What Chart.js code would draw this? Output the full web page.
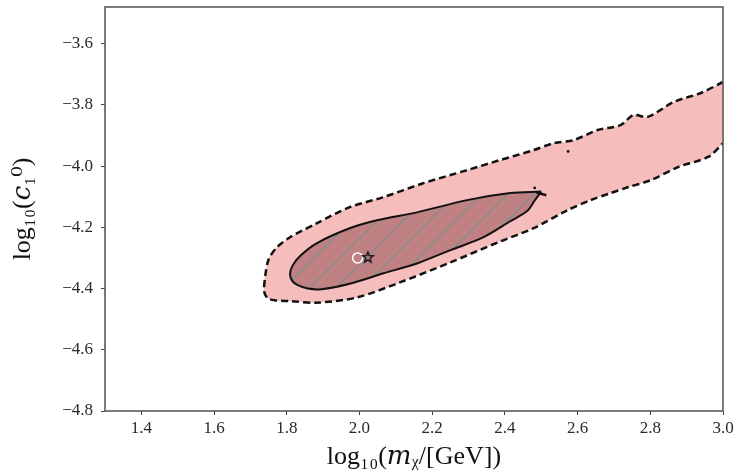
<!DOCTYPE html>
<html>
<head>
<meta charset="utf-8">
<script src="https://cdn.jsdelivr.net/npm/chart.js@4/dist/chart.umd.min.js"></script>
<style>
  html, body { margin: 0; padding: 0; background: #ffffff; }
  #wrap { width: 739px; height: 476px; }
</style>
</head>
<body>
<div id="wrap"><canvas id="c" width="739" height="476"></canvas></div>
<script>
// ---- data ----
const xTicks = [1.4, 1.6, 1.8, 2.0, 2.2, 2.4, 2.6, 2.8, 3.0];
const yTicks = [-4.8, -4.6, -4.4, -4.2, -4.0, -3.8, -3.6];
const xRange = [1.3, 3.0];
const yRange = [-4.8, -3.48];
const xTitle = 'log₁₀(𝑚ᵪ/[GeV])';
const yTitle = 'log₁₀(𝑐₁⁰)';

// outer (dashed) credible region, [log10 m, log10 c]
const outerContour = [
  [3.000, -3.725], [2.939, -3.761], [2.865, -3.790], [2.793, -3.839], [2.754, -3.833],
  [2.718, -3.866], [2.655, -3.882], [2.589, -3.915], [2.534, -3.925], [2.478, -3.948],
  [2.387, -3.980], [2.296, -4.013], [2.175, -4.056], [2.064, -4.102], [1.973, -4.134],
  [1.882, -4.187], [1.808, -4.233], [1.772, -4.266], [1.750, -4.305], [1.741, -4.357],
  [1.738, -4.410], [1.748, -4.432], [1.772, -4.439], [1.808, -4.441], [1.882, -4.446],
  [1.993, -4.429], [2.111, -4.380], [2.249, -4.315], [2.387, -4.246], [2.478, -4.203],
  [2.572, -4.144], [2.636, -4.111], [2.691, -4.088], [2.738, -4.069], [2.801, -4.046],
  [2.876, -4.003], [2.959, -3.970], [3.000, -3.925]
];
// inner (solid, hatched) credible region
const innerContour = [
  [2.500, -4.083], [2.415, -4.088], [2.296, -4.111], [2.158, -4.151], [2.048, -4.177],
  [1.973, -4.203], [1.882, -4.252], [1.838, -4.292], [1.816, -4.325], [1.809, -4.353],
  [1.815, -4.375], [1.830, -4.389], [1.858, -4.400], [1.895, -4.402], [1.973, -4.384],
  [2.064, -4.351], [2.158, -4.318], [2.249, -4.275], [2.340, -4.233], [2.415, -4.180],
  [2.462, -4.146], [2.482, -4.112]
];
// small detached contour pieces near the tip
const tipPiece = [[2.487, -4.086], [2.514, -4.095]];
const strayDots = [[2.482, -4.071], [2.574, -3.952]];
// markers
const truthPoint = [[1.995, -4.300]];
const bestFitPoint = [[2.023, -4.297]];

// ---- helpers ----
const toXY = arr => arr.map(p => ({x: p[0], y: p[1]}));
const closed = arr => arr.concat([arr[0]]);

function makeHatch() {
  const s = 26;
  const cv = document.createElement('canvas');
  cv.width = s; cv.height = s;
  const g = cv.getContext('2d');
  g.fillStyle = '#c08182';
  g.fillRect(0, 0, s, s);
  g.strokeStyle = '#8e8b8b';
  g.lineWidth = 1.7;
  for (const o of [-s, 0, s]) {
    g.beginPath();
    g.moveTo(o, s);
    g.lineTo(o + s, 0);
    g.stroke();
  }
  return g.createPattern(cv, 'repeat');
}

function makeStar() {
  const cv = document.createElement('canvas');
  cv.width = 14; cv.height = 14;
  const g = cv.getContext('2d');
  const cx = 7, cy = 7.5, R = 5.5, r = 2.3;
  g.beginPath();
  for (let i = 0; i < 10; i++) {
    const a = -Math.PI / 2 + i * Math.PI / 5;
    const rr = i % 2 === 0 ? R : r;
    const px = cx + rr * Math.cos(a), py = cy + rr * Math.sin(a);
    if (i === 0) g.moveTo(px, py); else g.lineTo(px, py);
  }
  g.closePath();
  g.strokeStyle = '#1a1a1a';
  g.lineWidth = 1.5;
  g.stroke();
  return cv;
}

const frame = {
  id: 'frame',
  afterDatasetsDraw(chart) {
    const {ctx, chartArea: a} = chart;
    ctx.save();
    ctx.strokeStyle = '#5a5a5a';
    ctx.lineWidth = 1.6;
    ctx.strokeRect(a.left, a.top, a.right - a.left, a.bottom - a.top);
    ctx.restore();
  }
};

const fmt = v => (v < 0 ? '−' : '') + Math.abs(v).toFixed(1);
const tickFont = {family: "'Liberation Serif', 'DejaVu Serif', serif", size: 17};
const titleFont = {family: "'Liberation Serif', 'DejaVu Serif', serif", size: 26};
const T = 0.3; // contour smoothing

new Chart(document.getElementById('c'), {
  type: 'line',
  data: {
    datasets: [
      { // best-fit star
        data: toXY(bestFitPoint), showLine: false, order: 0,
        pointStyle: makeStar(), pointRadius: 6
      },
      { // truth circle
        data: toXY(truthPoint), showLine: false, order: 0,
        pointStyle: 'circle', pointRadius: 5, pointBorderColor: '#ffffff',
        pointBorderWidth: 1.6, pointBackgroundColor: 'rgba(0,0,0,0)'
      },
      { // inner border
        data: toXY(closed(innerContour)), order: 1, fill: false,
        borderColor: '#111111', borderWidth: 2, pointRadius: 0, tension: T,
        borderJoinStyle: 'round'
      },
      { // inner fill (hatched)
        data: toXY(closed(innerContour)), order: 2, fill: 'shape',
        backgroundColor: makeHatch(), borderWidth: 0, borderColor: 'rgba(0,0,0,0)',
        pointRadius: 0, tension: T
      },
      { // tip piece of the outer contour
        data: toXY(tipPiece), order: 1, fill: false,
        borderColor: '#111111', borderWidth: 2.5, pointRadius: 0, tension: 0
      },
      { // stray contour dots
        data: toXY(strayDots), showLine: false, order: 1,
        pointStyle: 'circle', pointRadius: 1.4, pointBackgroundColor: '#111111',
        pointBorderWidth: 0
      },
      { // outer border (dashed)
        data: toXY(outerContour), order: 3, fill: false,
        borderColor: '#111111', borderWidth: 2.5, borderDash: [7, 4],
        pointRadius: 0, tension: T, borderJoinStyle: 'round'
      },
      { // outer fill
        data: toXY(outerContour), order: 4, fill: 'shape',
        backgroundColor: '#f6bdbd', borderWidth: 0, borderColor: 'rgba(0,0,0,0)',
        pointRadius: 0, tension: T
      }
    ]
  },
  options: {
    responsive: false,
    devicePixelRatio: 1,
    animation: false,
    layout: { padding: { left: 0, top: 7, right: 16, bottom: 0 } },
    plugins: { legend: { display: false }, tooltip: { enabled: false } },
    scales: {
      x: {
        type: 'linear', min: xRange[0], max: xRange[1],
        afterBuildTicks: s => { s.ticks = xTicks.map(v => ({value: v})); },
        afterFit: s => { s.height = 65; s.paddingLeft = 0; s.paddingRight = 0; },
        ticks: { callback: fmt, font: tickFont, color: '#2a2a2a', padding: 3, maxRotation: 0, autoSkip: false },
        grid: { drawOnChartArea: false, drawTicks: true, tickLength: 4, color: '#444', lineWidth: 1 },
        border: { display: false },
        title: { display: true, text: xTitle, font: titleFont, color: '#111', padding: { top: 0, bottom: 3 } }
      },
      y: {
        type: 'linear', min: yRange[0], max: yRange[1],
        afterBuildTicks: s => { s.ticks = yTicks.map(v => ({value: v})); },
        afterFit: s => { s.width = 105; s.paddingTop = 0; s.paddingBottom = 0; },
        ticks: { callback: fmt, font: tickFont, color: '#2a2a2a', padding: 8, autoSkip: false },
        grid: { drawOnChartArea: false, drawTicks: true, tickLength: 4, color: '#444', lineWidth: 1 },
        border: { display: false },
        title: { display: true, text: yTitle, font: titleFont, color: '#111', padding: { top: 8, bottom: 0 } }
      }
    }
  },
  plugins: [frame]
});
</script>
</body>
</html>
